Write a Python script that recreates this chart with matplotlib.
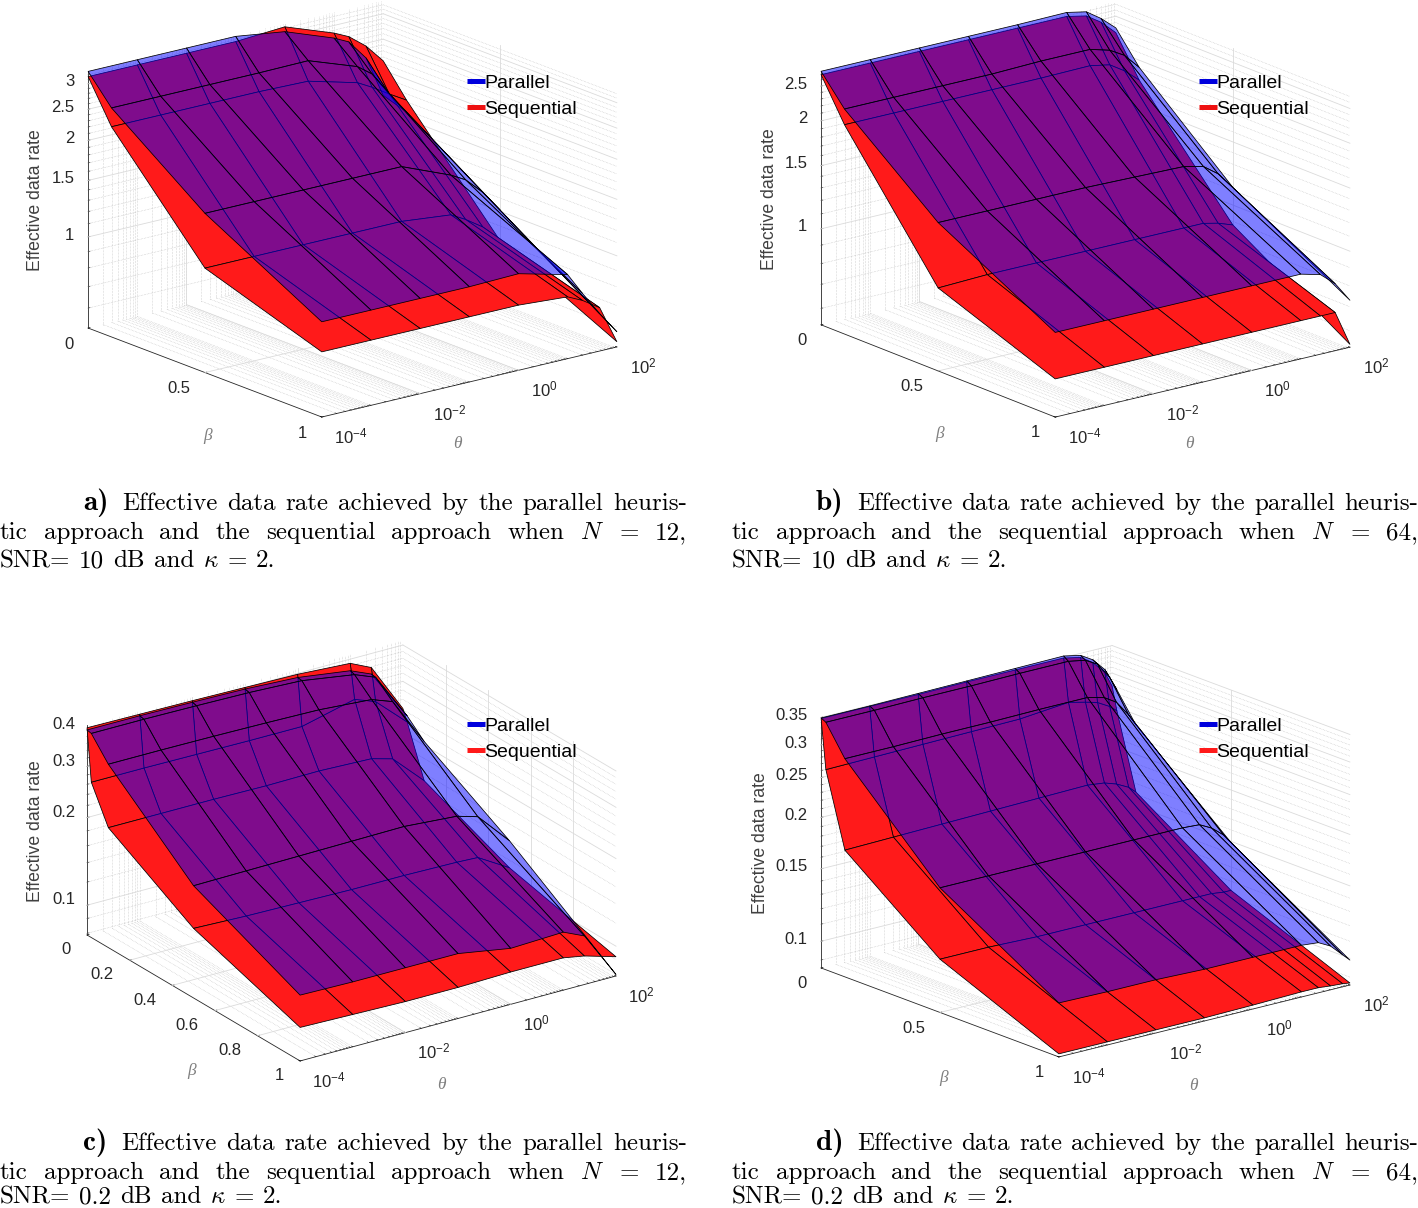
import numpy as np
import matplotlib
matplotlib.use('Agg')
import matplotlib.pyplot as plt
from matplotlib.lines import Line2D
from matplotlib.transforms import ScaledTranslation

W, H = 1418, 1208

# beta rows and log10(theta) columns of the surfaces
beta_ab = [0, 0.1, 0.5, 1]
beta_cd = [0, 0.02, 0.1, 0.5, 1]
logt_a = [-4, -3, -2, -1, 0, 1, 1.3, 1.65, 2]
logt_b = [-4, -3, -2, -1, 0, 1, 1.4, 1.7, 2]
logt_c = [-4, -3, -2, -1, 0, 1, 1.4, 2]
logt_d = [-4, -3, -2, -1, 0, 1, 1.35, 1.6, 1.85, 2]

par_a = [[3.28, 3.28, 3.28, 3.28, 3.12, 2.74, 2.60, 2.25, 1.67],
         [2.69, 2.69, 2.69, 2.69, 2.70, 2.38, 2.20, 1.85, 1.58],
         [1.63, 1.63, 1.63, 1.63, 1.63, 1.41, 1.33, 1.18, 1.01],
         [1.03, 1.03, 1.03, 1.03, 1.04, 0.95, 0.81, 0.68, 0.58]]
seq_a = [[3.16, 3.16, 3.16, 3.16, 3.23, 2.84, 2.70, 2.45, 2.14],
         [2.35, 2.35, 2.35, 2.35, 2.33, 2.12, 2.00, 1.85, 1.72],
         [1.10, 1.10, 1.10, 1.10, 1.10, 1.06, 1.00, 0.92, 0.81],
         [0.83, 0.83, 0.83, 0.83, 0.83, 0.81, 0.77, 0.71, 0.54]]

par_b = [[2.75, 2.75, 2.75, 2.75, 2.75, 2.76, 2.69, 2.52, 2.32],
         [2.29, 2.29, 2.29, 2.29, 2.31, 2.31, 2.23, 2.11, 1.91],
         [1.40, 1.40, 1.40, 1.40, 1.39, 1.38, 1.34, 1.25, 1.12],
         [0.93, 0.93, 0.93, 0.93, 0.93, 0.93, 0.90, 0.83, 0.73]]
seq_b = [[2.69, 2.69, 2.69, 2.69, 2.69, 2.69, 2.62, 2.46, 2.25],
         [2.07, 2.07, 2.07, 2.07, 2.07, 2.08, 2.03, 1.91, 1.76],
         [0.92, 0.93, 0.93, 0.93, 0.93, 0.93, 0.93, 0.91, 0.88],
         [0.69, 0.69, 0.69, 0.69, 0.69, 0.69, 0.69, 0.69, 0.55]]

par_c = [[0.400, 0.400, 0.398, 0.395, 0.387, 0.365, 0.340, 0.237],
         [0.397, 0.397, 0.395, 0.392, 0.385, 0.361, 0.338, 0.233],
         [0.337, 0.337, 0.336, 0.334, 0.331, 0.321, 0.302, 0.206],
         [0.192, 0.193, 0.194, 0.195, 0.196, 0.190, 0.181, 0.140],
         [0.133, 0.132, 0.132, 0.132, 0.123, 0.125, 0.116, 0.080]]
seq_c = [[0.407, 0.405, 0.403, 0.400, 0.397, 0.387, 0.358, 0.242],
         [0.270, 0.270, 0.269, 0.268, 0.268, 0.297, 0.279, 0.222],
         [0.204, 0.204, 0.204, 0.203, 0.204, 0.201, 0.192, 0.151],
         [0.137, 0.135, 0.134, 0.133, 0.133, 0.132, 0.131, 0.113],
         [0.103, 0.102, 0.101, 0.101, 0.102, 0.102, 0.099, 0.092]]

par_d = [[0.349, 0.349, 0.350, 0.351, 0.352, 0.353, 0.346, 0.332, 0.309, 0.286],
         [0.344, 0.344, 0.345, 0.345, 0.346, 0.346, 0.340, 0.327, 0.299, 0.276],
         [0.292, 0.292, 0.293, 0.293, 0.294, 0.294, 0.287, 0.275, 0.252, 0.236],
         [0.173, 0.173, 0.173, 0.173, 0.173, 0.173, 0.172, 0.166, 0.157, 0.149],
         [0.1165, 0.116, 0.116, 0.115, 0.115, 0.115, 0.114, 0.110, 0.103, 0.099]]
seq_d = [[0.348, 0.348, 0.348, 0.349, 0.349, 0.349, 0.342, 0.327, 0.304, 0.279],
         [0.264, 0.265, 0.266, 0.267, 0.268, 0.275, 0.269, 0.264, 0.254, 0.2455],
         [0.175, 0.176, 0.177, 0.178, 0.179, 0.180, 0.178, 0.174, 0.168, 0.162],
         [0.116, 0.116, 0.115, 0.115, 0.115, 0.115, 0.115, 0.115, 0.114, 0.114],
         [0.0876, 0.0876, 0.0876, 0.0876, 0.0880, 0.0886, 0.0886, 0.0880, 0.0876, 0.0871]]

# rate axis ticks (the axis is logarithmic, its floor is not zero)
zticks_a = [1, 1.5, 2, 2.5, 3]
zticks_b = [1, 1.5, 2, 2.5]
zticks_c = [0.1, 0.2, 0.3, 0.4]
zticks_d = [0.1, 0.15, 0.2, 0.25, 0.3, 0.35]
zminor_ab = [0.6, 0.7, 0.8, 0.9, 1.1, 1.2, 1.3, 1.4, 1.6, 1.7, 1.8, 1.9, 2.1, 2.2, 2.3, 2.4, 2.6, 2.7, 2.8, 2.9, 3.1, 3.2]
zminor_c = [0.08, 0.09, 0.12, 0.14, 0.16, 0.18, 0.22, 0.24, 0.26, 0.28, 0.32, 0.34, 0.36, 0.38]
zminor_d = [0.09, 0.11, 0.12, 0.13, 0.14, 0.16, 0.17, 0.18, 0.19, 0.21, 0.22, 0.23, 0.24, 0.26, 0.27, 0.28, 0.29, 0.31, 0.32, 0.33, 0.34]

xticks_half = [0, 0.5, 1]
xlabels_half = ['0', '0.5', '1']
xticks_fifth = [0, 0.2, 0.4, 0.6, 0.8, 1]
xlabels_fifth = ['0', '0.2', '0.4', '0.6', '0.8', '1']
yticks = [-4, -2, 0, 2]
ylabels = [r'$\mathregular{10^{-4}}$', r'$\mathregular{10^{-2}}$', r'$\mathregular{10^{0}}$', r'$\mathregular{10^{2}}$']
yminor = [d + np.log10(k) for d in range(-4, 2) for k in range(1, 10)]

RED = '#ff1a1a'
BLUE = (0, 0, 1, 0.5)
SANS = 'Liberation Sans'


def px(x, y):
    return x / W, 1 - y / H


def nudge(ax, labels, dx, dy):
    # mplot3d resets tick label transforms at draw, so pin the shifted one (offsets in pixels)
    for t in labels:
        t.set_transform(ax.transData + ScaledTranslation(dx / 100, dy / 100, fig.dpi_scale_trans))
        t.set_transform = lambda tr: None


def panel(par, seq, betas, logt, zlim, zticks, zminor, xticks, xlabels,
          A, C, lengths, elev, azim, legend_at, zlab_at, blab_at, tlab_at, leg_red, z_off):
    # size and place the square 3d axes so the box corners land on A and C
    L = np.array(lengths, float)
    S = 1.85 * np.linalg.norm(L) / (1.8294640721620434 * 25 / 24)
    h = L[2] * np.cos(np.radians(elev))
    cx = (A[0] + C[0]) / 2
    cy = (A[1] + C[1]) / 2 - h / 2
    frac = 0.095 / 0.185
    ax = fig.add_axes([(cx - frac * S) / W, (H - cy - frac * S) / H, S / W, S / H], projection='3d', proj_type='ortho')
    ax.view_init(elev=elev, azim=azim)
    ax.set_box_aspect(lengths)
    ax.patch.set_visible(False)
    ax.computed_zorder = False
    ax.grid(False)

    X, Y = np.meshgrid(betas, logt, indexing='ij')
    s1 = ax.plot_surface(X, Y, np.log10(seq), rstride=1, cstride=1, shade=False, zorder=3, linewidth=0.55)
    s1.set_facecolor(RED)
    s1.set_edgecolor('k')
    s2 = ax.plot_surface(X, Y, np.log10(par), rstride=1, cstride=1, shade=False, zorder=4, linewidth=0.55)
    s2.set_facecolor(BLUE)
    s2.set_edgecolor('k')

    z0, z1 = np.log10(zlim)
    # hand drawn grid on the back walls and floor, major solid, minor dotted
    for t in yminor[1:]:
        ax.plot([0, 1], [t, t], [z0, z0], color='0.7', lw=0.4, ls=':', zorder=1)
        ax.plot([0, 0], [t, t], [z0, z1], color='0.7', lw=0.4, ls=':', zorder=1)
    for z in zminor:
        lz = np.log10(z)
        ax.plot([0, 0], [-4, 2], [lz, lz], color='0.7', lw=0.4, ls=':', zorder=1)
        ax.plot([0, 1], [2, 2], [lz, lz], color='0.7', lw=0.4, ls=':', zorder=1)
    for b in xticks[1:-1]:
        ax.plot([b, b], [-4, 2], [z0, z0], color='0.86', lw=0.6, zorder=2)
        ax.plot([b, b], [2, 2], [z0, z1], color='0.86', lw=0.6, zorder=2)
    for t in yticks[1:-1]:
        ax.plot([0, 1], [t, t], [z0, z0], color='0.86', lw=0.6, zorder=2)
        ax.plot([0, 0], [t, t], [z0, z1], color='0.86', lw=0.6, zorder=2)
    for z in zticks:
        lz = np.log10(z)
        ax.plot([0, 0], [-4, 2], [lz, lz], color='0.86', lw=0.6, zorder=2)
        ax.plot([0, 1], [2, 2], [lz, lz], color='0.86', lw=0.6, zorder=2)

    ax.set_xlim(0, 1, view_margin=0)
    ax.set_ylim(-4, 2, view_margin=0)
    ax.set_zlim(z0, z1, view_margin=0)

    ax.set_xticks(xticks)
    xl = ax.set_xticklabels(xlabels, family=SANS, fontsize=12, color='0.15', ha='right', va='bottom')
    ax.set_yticks(yticks)
    yl = ax.set_yticklabels(ylabels, family=SANS, fontsize=12, color='0.15', ha='left', va='bottom')
    ax.set_yticks(yminor, minor=True)
    ax.set_zticks(np.log10(zticks))
    zl = ax.set_zticklabels([f'{z:g}' for z in zticks], family=SANS, fontsize=12, color='0.15', ha='right', va='bottom')
    ax.set_zticks(np.log10(zminor), minor=True)
    ax.zaxis.set_ticks_position('lower')
    ax.tick_params(axis='x', pad=3)
    ax.tick_params(axis='y', pad=1)
    ax.tick_params(axis='z', pad=-4)
    nudge(ax, xl, 0, -7)
    nudge(ax, yl, 3, -15)
    nudge(ax, zl, *z_off)

    for axis in (ax.xaxis, ax.yaxis, ax.zaxis):
        axis.set_pane_color((1, 1, 1, 0))
        axis.pane.set_edgecolor('0.85')
        axis.pane.set_linewidth(0.6)
        axis.line.set_color('0.15')
        axis.line.set_linewidth(0.6)
        axis._axinfo['tick']['linewidth'] = {True: 0.5, False: 0.4}
        axis._axinfo['tick']['color'] = '0.15'
        axis._axinfo['tick']['inward_factor'] = 0.0
        axis._axinfo['tick']['outward_factor'] = 0.08

    x, y = px(*zlab_at)
    ax.text2D(x, y, 'Effective data rate', transform=fig.transFigure, rotation=90, ha='center', va='center',
              family=SANS, fontsize=12.7, color='0.25')
    x, y = px(*blab_at)
    ax.text2D(x, y, 'β', transform=fig.transFigure, ha='center', va='center', family='Liberation Serif',
              style='italic', fontsize=12.5, color='0.5')
    x, y = px(*tlab_at)
    ax.text2D(x, y, 'θ', transform=fig.transFigure, ha='center', va='center', family='Liberation Serif',
              style='italic', fontsize=12.5, color='0.5')

    handles = [Line2D([], [], color='#0000dd', lw=3.6, solid_capstyle='butt'),
               Line2D([], [], color=leg_red, lw=3.6, solid_capstyle='butt')]
    ax.legend(handles, ['Parallel', 'Sequential'], loc='upper left', bbox_to_anchor=px(*legend_at),
              bbox_transform=fig.transFigure, frameon=False, borderpad=0, borderaxespad=0,
              handlelength=0.9, handletextpad=0.0, labelspacing=0.46,
              prop={'family': SANS, 'size': 14})
    return ax


def word(x, y, s, **kw):
    fx, fy = px(x, y)
    return fig.text(fx, fy, s, va='baseline', ha='left', math_fontfamily='cm', **kw)


def justified(words, x0, x1, y, size=18):
    # stretch the gaps so the line fills x0..x1, as the typeset caption does
    arts = [word(x0, y, w, family='cmr10', fontsize=size, color='k') for w in words]
    rend = fig.canvas.get_renderer()
    ws = [a.get_window_extent(rend).width for a in arts]
    gap = (x1 - x0 - sum(ws)) / (len(ws) - 1)
    x = x0
    for a, w in zip(arts, ws):
        a.set_x(x / W)
        x += w + gap


def caption(letter, lx, x1start, x0, x1, ys, n, snr, end3):
    word(lx, ys[0], letter, family='cmb10', fontsize=21, color='k')
    justified('Effective data rate achieved by the parallel heuris-'.split(), x1start, x1, ys[0])
    justified(['tic', 'approach', 'and', 'the', 'sequential', 'approach', 'when', '$N$', '=', n + ','], x0, x1, ys[1])
    justified(['SNR=', snr, 'dB', 'and', r'$\kappa$', '=', '2.'], x0, end3, ys[2])


fig = plt.figure(figsize=(W / 100, H / 100), dpi=100)

panel(par_a, seq_a, beta_ab, logt_a, (0.52, 3.3), zticks_a, zminor_ab, xticks_half, xlabels_half,
      (88, 328), (617, 347), (377, 376, 270), 17.5, -38.3, (467, 74), (36, 200), (208, 436), (457, 444), '#ee1111', (-4, -6))
panel(par_b, seq_b, beta_ab, logt_b, (0.54, 2.745), zticks_b, zminor_ab[:18], xticks_half, xlabels_half,
      (821, 325), (1350, 347), (382, 373, 266), 17.8, -37.8, (1199, 74), (769, 199), (940, 434), (1189, 444), '#ee1111', (-4, -6))
panel(par_c, seq_c, beta_cd, logt_c, (0.079, 0.416), zticks_c, zminor_c, xticks_fifth, xlabels_fifth,
      (87, 935), (616, 976), (381, 381, 229), 23.5, -34.0, (467, 717), (36, 831), (192, 1071), (441, 1085), '#ff1a1a', (-2, -3))
panel(par_d, seq_d, beta_cd, logt_d, (0.0861, 0.35), zticks_d, zminor_d, xticks_half, xlabels_half,
      (821, 968), (1350, 985), (377, 375, 263), 17.7, -39.1, (1199, 717), (760, 843), (944, 1078), (1193, 1086), '#ff1a1a', (-4, -6))

caption('a)', 83, 122, 0, 687, (510, 539, 567), '12', '10', 275)
caption('b)', 816, 857, 732, 1418, (510, 539, 567), '64', '10', 1007)
caption('c)', 83, 121, 0, 687, (1150, 1179, 1203), '12', '0.2', 282)
caption('d)', 816, 857, 732, 1418, (1150, 1179, 1203), '64', '0.2', 1014)

fig.savefig('out.png', dpi=100)
